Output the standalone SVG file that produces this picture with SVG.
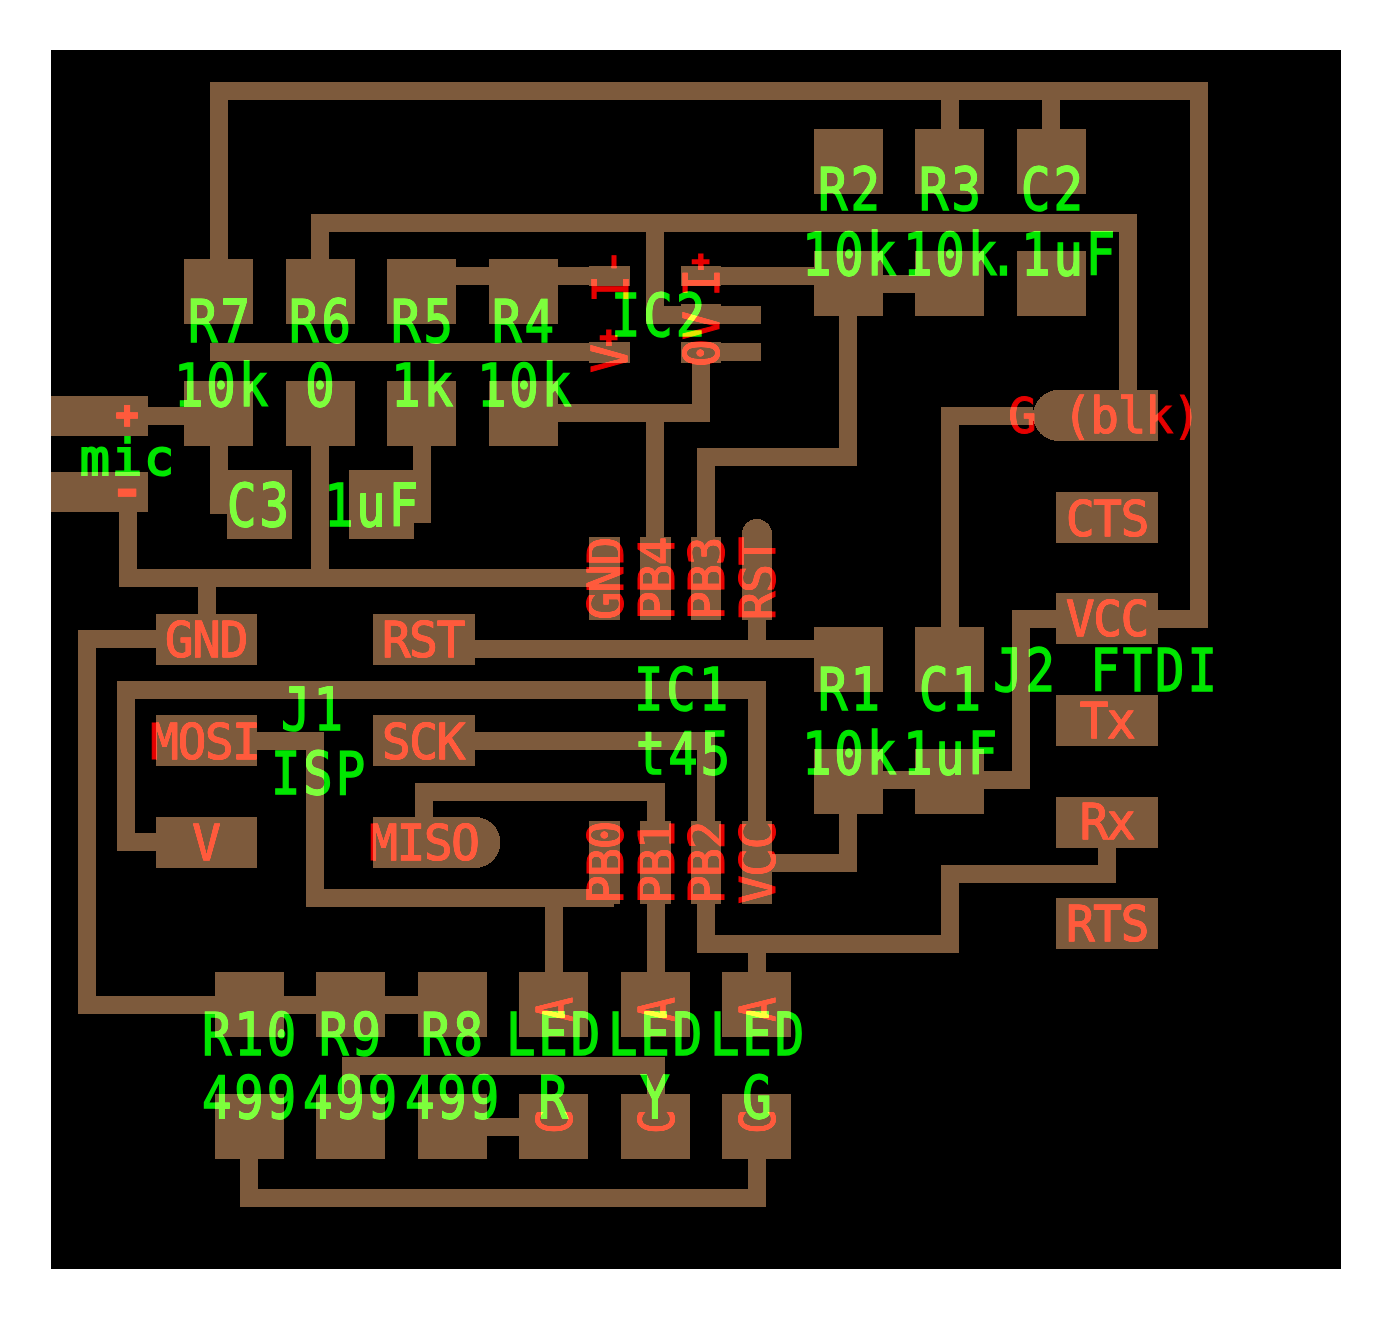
<svg xmlns="http://www.w3.org/2000/svg" width="1391" height="1320" viewBox="0 0 1391 1320">
<style>
.p{fill:#7d5a3c;shape-rendering:crispEdges}
.t{fill:none;stroke:#7d5a3c;stroke-width:18;stroke-linejoin:miter;shape-rendering:crispEdges}
text{font-family:"DejaVu Sans Mono","Liberation Mono",monospace;text-anchor:middle;mix-blend-mode:plus-lighter}
.g{fill:#00e600;stroke:#00e600;stroke-width:1.500px;font-size:59px;letter-spacing:3.500px;transform-box:fill-box;transform-origin:center;transform:translateX(1.500px) scale(.83,1)}
.r{fill:#e60000;stroke:#e60000;stroke-width:1px;font-size:50px;letter-spacing:-1.300px;transform-box:fill-box;transform-origin:center;transform:scale(.95,1)}
.q{fill:#e60000;stroke:#e60000;stroke-width:1px;font-size:50px;letter-spacing:-1.300px}
.m{fill:#00e600;stroke:#00e600;stroke-width:2px;font-size:50px;letter-spacing:2px}
.b{fill:#e60000;stroke:#e60000;stroke-width:3px}
</style>
<rect x="0" y="0" width="1391" height="1320" fill="#fff"/>
<rect x="51" y="50" width="1290" height="1219" fill="#000"/>
<g id="connectors">
<path class="t" d="M219 259V91H1199V619H1158"/>
<path class="t" d="M950 100V129M1051 100V129"/>
<path class="t" d="M320 259V223H1128V390"/>
<path class="t" d="M655 232V315H761"/>
<path class="t" d="M456 276H630M681 276H814M883 284H915"/>
<path class="t" d="M210 352H630"/>
<path class="t" d="M148 416H184"/>
<path class="t" d="M219 446V514"/>
<path class="t" d="M422 446V514H414"/>
<path class="t" d="M320 446V578"/>
<path class="t" d="M127.500 512V578H589"/>
<path class="t" d="M701 363V413H558"/>
<path class="t" d="M655 413V537"/>
<path class="t" d="M848 316V456.500H706V537"/>
<path class="t" d="M681 352H761"/>
<path class="t" d="M950 627V416H1033"/>
<path class="t" d="M206.500 587V614"/>
<path class="t" d="M475 649H814M757 620V640"/>
<path class="t" d="M156 639H87V1005H418"/>
<path class="t" d="M156 842H125.500V690H757V821"/>
<path class="t" d="M475 741H706V821"/>
<path class="t" d="M706 904V943.500H950V874H1107V848"/>
<path class="t" d="M757 943V972"/>
<path class="t" d="M424 817V791.500H655.500V821"/>
<path class="t" d="M257 741H315V897.500H614"/>
<path class="t" d="M554 897V972M655.500 904V972"/>
<path class="t" d="M772 862.500H848V814"/>
<path class="t" d="M883 780H915M984 780H1021V619H1056"/>
<path class="t" d="M351 1094V1066H655.500V1094"/>
<path class="t" d="M487 1126.500H519"/>
<path class="t" d="M249 1159V1198H757V1159"/>
</g>
<g id="R2"><rect class="p" x="814" y="129" width="69" height="65"/><rect class="p" x="814" y="251" width="69" height="65"/><text class="g" x="849" y="210">R2</text><text class="g" x="849" y="275">10k</text></g>
<g id="R3"><rect class="p" x="915" y="129" width="69" height="65"/><rect class="p" x="915" y="251" width="69" height="65"/><text class="g" x="950" y="210">R3</text><text class="g" x="950" y="275">10k</text></g>
<g id="C2"><rect class="p" x="1017" y="129" width="69" height="65"/><rect class="p" x="1017" y="251" width="69" height="65"/><text class="g" x="1052" y="210">C2</text><text class="g" x="1052" y="275">.1uF</text></g>
<g id="R7"><rect class="p" x="184" y="259" width="69" height="65"/><rect class="p" x="184" y="381" width="69" height="65"/><text class="g" x="219" y="342">R7</text><text class="g" x="221" y="406">10k</text></g>
<g id="R6"><rect class="p" x="286" y="259" width="69" height="65"/><rect class="p" x="286" y="381" width="69" height="65"/><text class="g" x="320" y="342">R6</text><text class="g" x="320" y="406">0</text></g>
<g id="R5"><rect class="p" x="387" y="259" width="69" height="65"/><rect class="p" x="387" y="381" width="69" height="65"/><text class="g" x="422" y="342">R5</text><text class="g" x="422" y="406">1k</text></g>
<g id="R4"><rect class="p" x="489" y="259" width="69" height="65"/><rect class="p" x="489" y="381" width="69" height="65"/><text class="g" x="523" y="342">R4</text><text class="g" x="524" y="406">10k</text></g>
<g id="C3"><rect class="p" x="227" y="470" width="65" height="69"/><rect class="p" x="349" y="470" width="65" height="69"/><text class="g" x="258" y="526">C3</text><text class="g" x="371" y="526">1uF</text></g>
<g id="mic"><rect class="p" x="51" y="396" width="97" height="40"/><rect class="p" x="51" y="472" width="97" height="40"/><text class="m" x="128" y="475">mic</text><text class="b" style="font-size:36px" x="127" y="427">+</text><text class="b" style="font-size:60px" x="127" y="509">-</text></g>
<g id="IC2"><rect class="p" x="589" y="266" width="41" height="20"/><rect class="p" x="681" y="266" width="40" height="20"/><rect class="p" x="681" y="304" width="40" height="20"/><rect class="p" x="589" y="342" width="41" height="21"/><rect class="p" x="681" y="342" width="40" height="21"/>
<text class="g" x="658" y="336">IC2</text>
<text class="q" transform="translate(628 276) rotate(-90) scale(.95 1)">I-</text>
<text class="q" transform="translate(719 276) rotate(-90) scale(.95 1)">I<tspan dy="-9" style="font-size:28px;stroke-width:3px">+</tspan></text>
<text class="q" transform="translate(627 352) rotate(-90) scale(.95 1)">V<tspan dy="-9" style="font-size:28px;stroke-width:3px">+</tspan></text>
<text class="q" transform="translate(719 340) rotate(-90) scale(.95 1)">0V</text></g>
<g id="IC1"><rect class="p" x="589" y="537" width="31" height="83"/><rect class="p" x="640" y="537" width="31" height="83"/><rect class="p" x="691" y="537" width="30" height="83"/><path class="p" d="M742 620V534A15 15 0 0 1 772 534V620Z"/>
<rect class="p" x="589" y="821" width="31" height="83"/><rect class="p" x="640" y="821" width="31" height="83"/><rect class="p" x="691" y="821" width="30" height="83"/><rect class="p" x="742" y="821" width="30" height="83"/>
<text class="g" x="681" y="710">IC1</text><text class="g" x="683" y="774">t45</text>
<text class="q" transform="translate(623 579) rotate(-90) scale(.95 1)">GND</text><text class="q" transform="translate(674 579) rotate(-90) scale(.95 1)">PB4</text><text class="q" transform="translate(724 579) rotate(-90) scale(.95 1)">PB3</text><text class="q" transform="translate(775 579) rotate(-90) scale(.95 1)">RST</text>
<text class="q" transform="translate(623 863) rotate(-90) scale(.95 1)">PB0</text><text class="q" transform="translate(674 863) rotate(-90) scale(.95 1)">PB1</text><text class="q" transform="translate(724 863) rotate(-90) scale(.95 1)">PB2</text><text class="q" transform="translate(775 863) rotate(-90) scale(.95 1)">VCC</text></g>
<g id="R1"><rect class="p" x="814" y="627" width="69" height="65"/><rect class="p" x="814" y="749" width="69" height="65"/><text class="g" x="849" y="710">R1</text><text class="g" x="849" y="774">10k</text></g>
<g id="C1"><rect class="p" x="915" y="627" width="69" height="65"/><rect class="p" x="915" y="749" width="69" height="65"/><text class="g" x="950" y="710">C1</text><text class="g" x="950" y="774">1uF</text></g>
<g id="J1"><rect class="p" x="156" y="614" width="101" height="51"/><rect class="p" x="373" y="614" width="102" height="51"/><rect class="p" x="156" y="715" width="101" height="51"/><rect class="p" x="373" y="715" width="102" height="51"/><rect class="p" x="156" y="817" width="101" height="51"/><path class="p" d="M373 817H475A25.500 25.500 0 0 1 475 868H373Z"/>
<text class="r" x="206" y="657">GND</text><text class="r" x="423" y="657">RST</text><text class="r" x="205" y="759">MOSI</text><text class="r" x="423" y="759">SCK</text><text class="r" x="206" y="860">V</text><text class="r" x="424" y="860">MISO</text>
<text class="g" x="312" y="730">J1</text><text class="g" x="318" y="794">ISP</text></g>
<g id="J2"><path class="p" d="M1158 390H1058.500A25.500 25.500 0 0 0 1058.500 441H1158Z"/><rect class="p" x="1056" y="492" width="102" height="51"/><rect class="p" x="1056" y="593" width="102" height="51"/><rect class="p" x="1056" y="695" width="102" height="51"/><rect class="p" x="1056" y="797" width="102" height="51"/><rect class="p" x="1056" y="898" width="102" height="51"/>
<text class="r" x="1104" y="433">G (blk)</text><text class="r" x="1107" y="536">CTS</text><text class="r" x="1107" y="636">VCC</text><text class="r" x="1107" y="738">Tx</text><text class="r" x="1107" y="839">Rx</text><text class="r" x="1107" y="941">RTS</text>
<text class="g" x="1105" y="691">J2 FTDI</text></g>
<g id="R10"><rect class="p" x="215" y="972" width="69" height="65"/><rect class="p" x="215" y="1094" width="69" height="65"/><text class="g" x="249" y="1055">R10</text><text class="g" x="249" y="1118">499</text></g>
<g id="R9"><rect class="p" x="316" y="972" width="69" height="65"/><rect class="p" x="316" y="1094" width="69" height="65"/><text class="g" x="350" y="1055">R9</text><text class="g" x="350" y="1118">499</text></g>
<g id="R8"><rect class="p" x="418" y="972" width="69" height="65"/><rect class="p" x="418" y="1094" width="69" height="65"/><text class="g" x="452" y="1055">R8</text><text class="g" x="452" y="1118">499</text></g>
<g id="LED-R"><rect class="p" x="519" y="972" width="69" height="65"/><rect class="p" x="519" y="1094" width="69" height="65"/><text class="q" transform="translate(572 1010) rotate(-90) scale(.8 1)">A</text><text class="q" transform="translate(572 1122) rotate(-90) scale(.8 1)">C</text><text class="g" x="553" y="1055">LED</text><text class="g" x="553" y="1118">R</text></g>
<g id="LED-Y"><rect class="p" x="621" y="972" width="69" height="65"/><rect class="p" x="621" y="1094" width="69" height="65"/><text class="q" transform="translate(674 1010) rotate(-90) scale(.8 1)">A</text><text class="q" transform="translate(674 1122) rotate(-90) scale(.8 1)">C</text><text class="g" x="655" y="1055">LED</text><text class="g" x="655" y="1118">Y</text></g>
<g id="LED-G"><rect class="p" x="722" y="972" width="69" height="65"/><rect class="p" x="722" y="1094" width="69" height="65"/><text class="q" transform="translate(775 1010) rotate(-90) scale(.8 1)">A</text><text class="q" transform="translate(775 1122) rotate(-90) scale(.8 1)">C</text><text class="g" x="757" y="1055">LED</text><text class="g" x="757" y="1118">G</text></g>
</svg>
